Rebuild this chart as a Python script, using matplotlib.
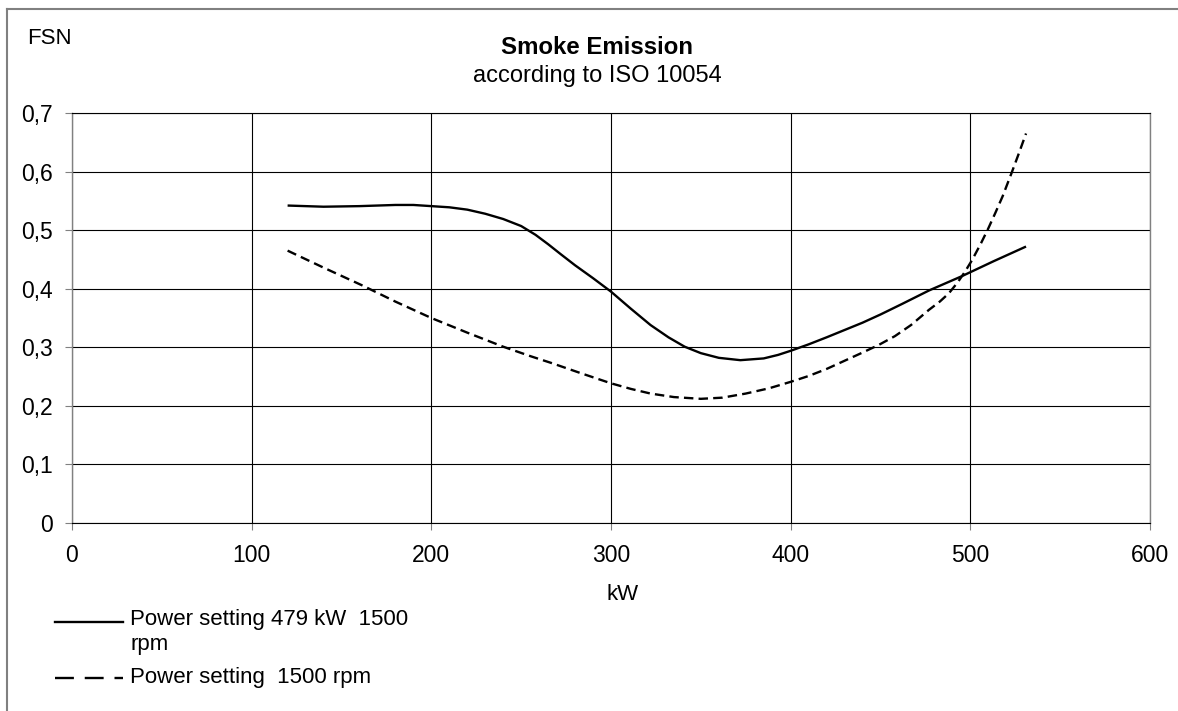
import matplotlib
matplotlib.use("Agg")
import matplotlib.pyplot as plt
from matplotlib.lines import Line2D
from matplotlib.ticker import FuncFormatter

plt.rcParams['font.family'] = ['Liberation Sans', 'DejaVu Sans']

kw_full = [120, 130, 140, 160, 180, 190, 200, 210, 220, 230, 240, 250, 258,
           265, 272, 280, 290, 300, 311, 322, 332, 341, 350, 360, 372, 385,
           393, 400, 410, 420, 432, 440, 450, 462, 477, 495, 513, 531]
fsn_full = [0.542, 0.541, 0.540, 0.541, 0.543, 0.543, 0.541, 0.539, 0.535,
            0.528, 0.519, 0.507, 0.492, 0.476, 0.459, 0.440, 0.418, 0.395,
            0.366, 0.338, 0.317, 0.301, 0.290, 0.282, 0.278, 0.281, 0.287,
            0.294, 0.305, 0.317, 0.332, 0.342, 0.356, 0.374, 0.397, 0.421,
            0.447, 0.472]

kw_prop = [120, 140, 162, 180, 200, 220, 240, 255, 267, 283, 300, 311, 322,
           335, 350, 362, 375, 388, 400, 410, 420, 430, 440, 449, 458, 467,
           477, 483, 488, 493, 497, 501, 506, 510, 514, 518, 523, 527, 531]
fsn_prop = [0.465, 0.436, 0.405, 0.378, 0.350, 0.325, 0.301, 0.285, 0.273,
            0.256, 0.2385, 0.229, 0.221, 0.215, 0.212, 0.214, 0.221, 0.230,
            0.241, 0.251, 0.263, 0.277, 0.291, 0.304, 0.319, 0.338, 0.364,
            0.378, 0.392, 0.411, 0.429, 0.449, 0.478, 0.503, 0.530, 0.558,
            0.598, 0.631, 0.665]

label_full = "Power setting 479 kW  1500\nrpm"
label_prop = "Power setting  1500 rpm"

W, H = 1178, 711
fig = plt.figure(figsize=(W / 100, H / 100), dpi=100)
ax = fig.add_axes([72 / W, 1 - 523 / H, (1150 - 72) / W, (523 - 113) / H])

ax.plot(kw_full, fsn_full, color='black', linewidth=1.7,
        solid_capstyle='butt', solid_joinstyle='round')
ax.plot(kw_prop, fsn_prop, color='black', linewidth=1.7,
        linestyle=(0, (4.0, 2.2)), dash_capstyle='butt')

ax.set_xlim(0, 600)
ax.set_ylim(0, 0.7)
ax.set_xticks(range(0, 601, 100))
ax.set_yticks([i / 10 for i in range(8)])
ax.yaxis.set_major_formatter(FuncFormatter(
    lambda v, p: '0' if abs(v) < 1e-9 else f'{v:.1f}'.replace('.', ',')))
ax.grid(True, color='black', linewidth=0.8)
ax.set_axisbelow(True)
for side in ['left', 'right']:
    ax.spines[side].set_color('#808080')
    ax.spines[side].set_linewidth(1.0)
ax.spines['top'].set_color('black')
ax.spines['top'].set_linewidth(0.8)
ax.spines['bottom'].set_color('black')
ax.spines['bottom'].set_linewidth(0.8)
ax.tick_params(axis='both', direction='out', length=5, width=0.8,
               color='#808080', labelsize=16.5)
ax.tick_params(axis='y', pad=8.5)
ax.tick_params(axis='x', pad=10)

# texts
fig.text(597 / W, 1 - 47 / H, "Smoke Emission", ha='center', va='center',
         fontsize=17.3, fontweight='bold')
fig.text(597 / W, 1 - 76 / H, "according to ISO 10054", ha='center',
         va='center', fontsize=17)
fig.text(27 / W, 1 - 38 / H, "FSN", ha='left', va='center', fontsize=16)
fig.text(623 / W, 1 - 594 / H, "kW", ha='center', va='center', fontsize=16)

# legend drawn below the plot
fig.add_artist(Line2D([55 / W, 123 / W], [1 - 622 / H, 1 - 622 / H],
                      color='black', linewidth=1.7))
fig.add_artist(Line2D([55 / W, 123 / W], [1 - 678 / H, 1 - 678 / H],
                      color='black', linewidth=1.7,
                      linestyle=(0, (8.0, 4.6)), dash_capstyle='butt'))
fig.text(130 / W, 1 - 609 / H, label_full, ha='left', va='top', fontsize=16,
         linespacing=1.25)
fig.text(130 / W, 1 - 678 / H, label_prop, ha='left', va='center', fontsize=16)

# outer chart frame
fig.add_artist(Line2D([7 / W, 7 / W], [0, 1 - 9 / H], color='#808080',
                      linewidth=1.5))
fig.add_artist(Line2D([7 / W, 1], [1 - 9 / H, 1 - 9 / H], color='#808080',
                      linewidth=1.5))

fig.savefig('out.png', dpi=100)
